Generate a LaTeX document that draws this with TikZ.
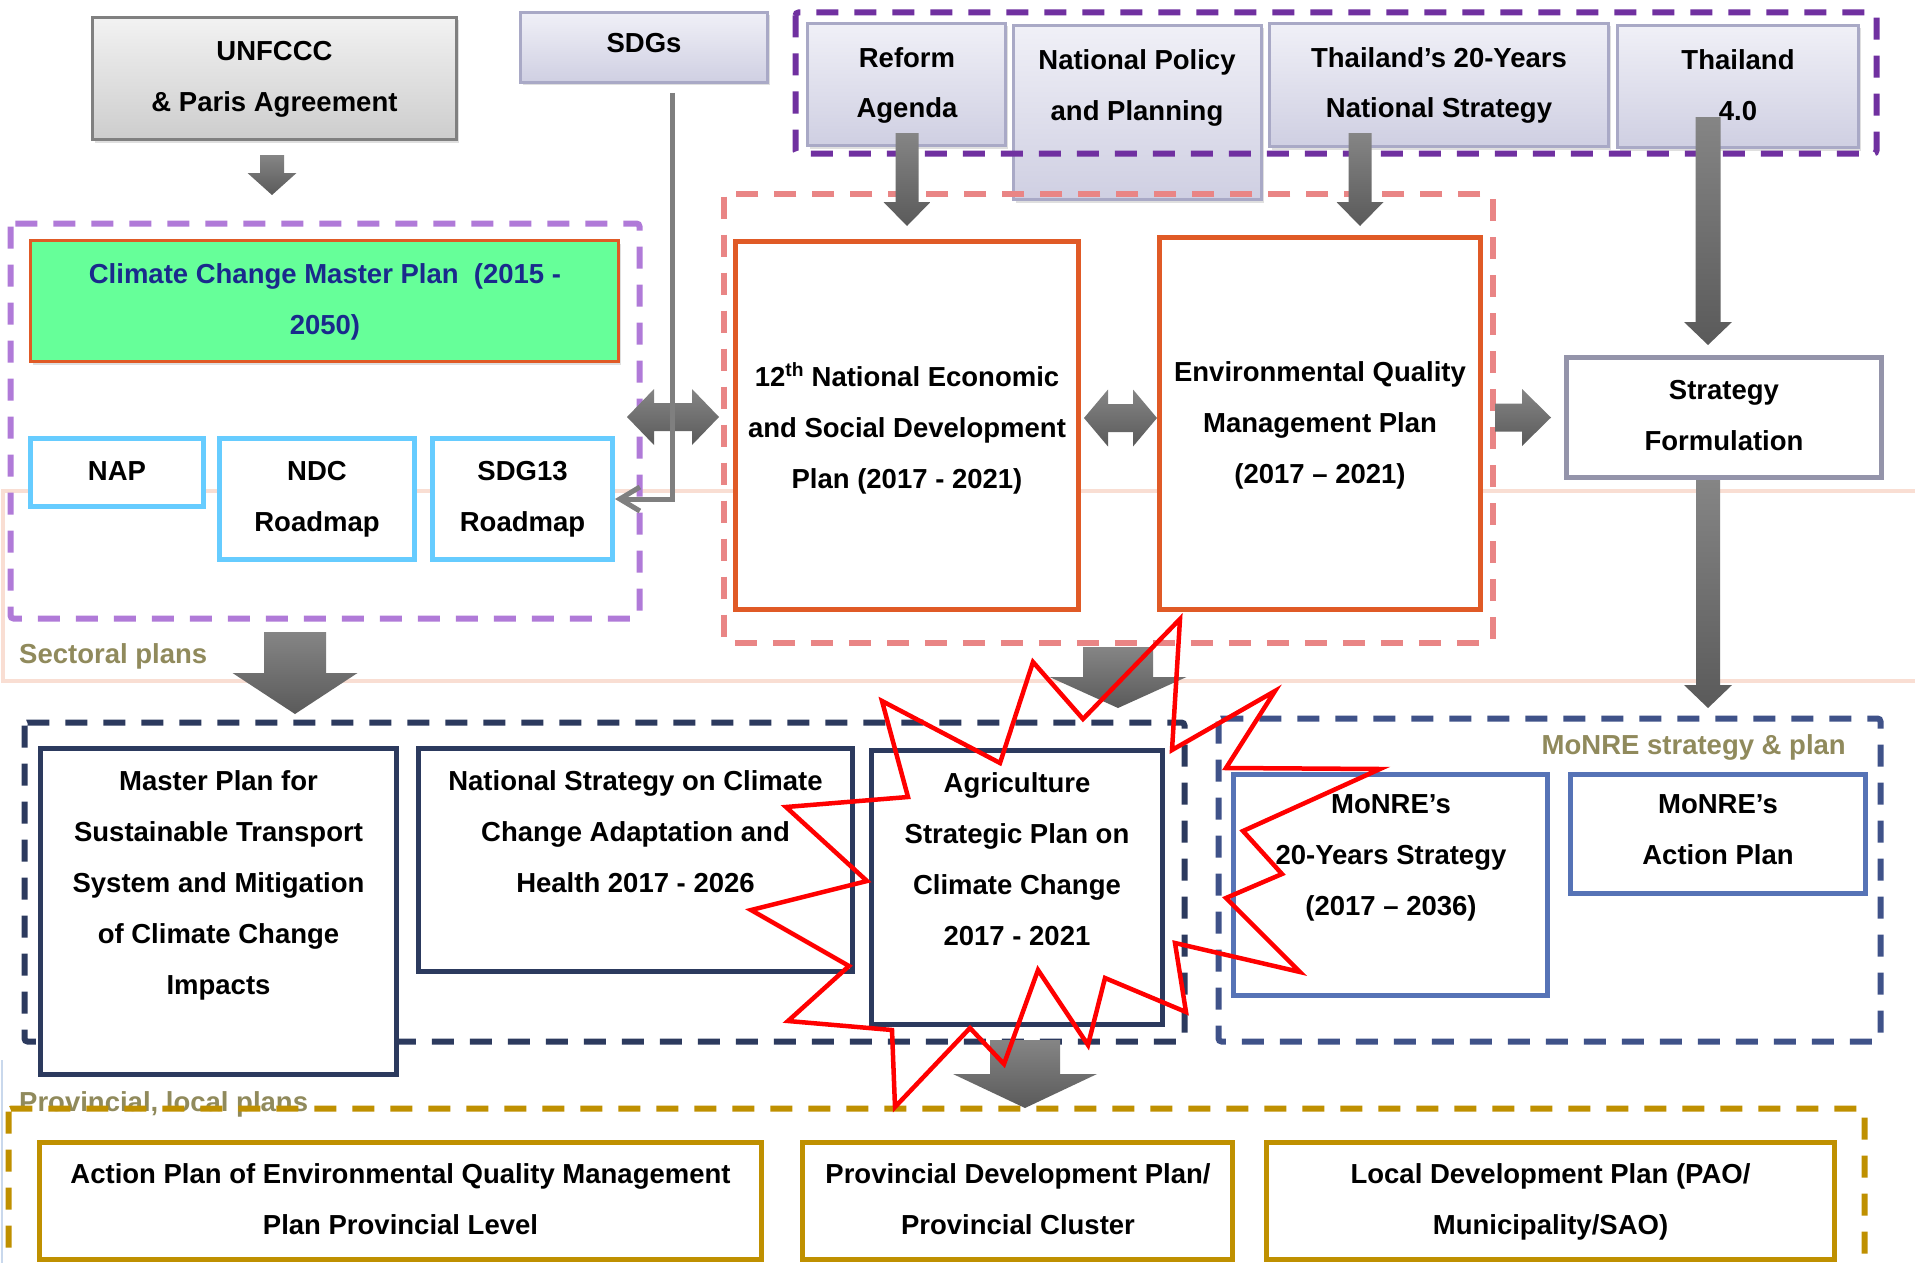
\documentclass[tikz,border=0pt]{standalone}
\usepackage{fontspec}
\setmainfont{Liberation Sans}
\usetikzlibrary{arrows.meta,shadows}
\definecolor{cPurple}{HTML}{7030A0}
\definecolor{cLav}{HTML}{B07AD8}
\definecolor{cPink}{HTML}{E98585}
\definecolor{cOrange}{HTML}{E05A26}
\definecolor{cNavy}{HTML}{2C3A5E}
\definecolor{cMon}{HTML}{3F5289}
\definecolor{cMonBox}{HTML}{5673B6}
\definecolor{cGold}{HTML}{BF9000}
\definecolor{cOlive}{HTML}{908A5C}
\definecolor{cSky}{HTML}{66CCFF}
\definecolor{cStrat}{HTML}{9494AA}
\definecolor{cPeach}{HTML}{F9DED3}
\definecolor{cGreen}{HTML}{66FF99}
\definecolor{cGText}{HTML}{1A2A8C}
\definecolor{cLavTop}{HTML}{F0F0F7}
\definecolor{cLavBot}{HTML}{CFCFE2}
\definecolor{cLavEdge}{HTML}{A9A9C6}
\definecolor{cGrayTop}{HTML}{F2F2F2}
\definecolor{cGrayBot}{HTML}{CDCDCD}
\definecolor{cGrayEdge}{HTML}{808080}
\definecolor{cArrTop}{HTML}{858585}
\definecolor{cArrBot}{HTML}{5A5A5A}
\definecolor{cLine}{HTML}{7F7F7F}
\definecolor{cFaint}{HTML}{C9D8EC}
\newcommand\ml[1]{\begin{tabular}[t]{@{}c@{}}#1\end{tabular}}
\newcommand\varrow[6]{%
  \path[blk] (#1-#5,#2) -- (#1+#5,#2) -- (#1+#5,#3) -- (#1+#6,#3) -- (#1,#4) -- (#1-#6,#3) -- (#1-#5,#3) -- cycle;}
\begin{document}
\begin{tikzpicture}[x=1pt,y=-1pt,
  txt/.style={anchor=base, inner sep=0pt, font=\fontsize{27.5}{51}\selectfont\bfseries},
  box/.style={draw, fill=white, line width=5pt, inner sep=0pt},
  dframe/.style={line width=6pt, dash pattern=on 22pt off 16pt, rounded corners=3pt},
  lavbox/.style={draw=cLavEdge, line width=2.5pt, top color=cLavTop, bottom color=cLavBot, inner sep=0pt,
    drop shadow={shadow xshift=2pt,shadow yshift=-3pt,opacity=0.25}},
  graybox/.style={draw=cGrayEdge, line width=2.5pt, top color=cGrayTop, bottom color=cGrayBot, inner sep=0pt,
    drop shadow={shadow xshift=2pt,shadow yshift=-3pt,opacity=0.25}},
  blk/.style={top color=cArrTop, bottom color=cArrBot, draw=none},
  olive/.style={txt, text=cOlive}]
\useasboundingbox (0,0) rectangle (1915,1263);
\clip (0,0) rectangle (1915,1263);
\fill[white] (0,0) rectangle (1915,1263);
% background band
\draw[cPeach, line width=4pt] (3,491) rectangle (1940,681);
\draw[cFaint, line width=2pt] (2,1060) -- (2,1270);

% ---- top boxes
\node[graybox, minimum width=364pt, minimum height=122pt] (unf) at (274.5,78.5) {};
\node[lavbox, minimum width=247pt, minimum height=70pt] (sdg) at (644,47.5) {};
\node[lavbox, minimum width=198pt, minimum height=122pt] (reform) at (906.5,84.5) {};
\node[lavbox, minimum width=248pt, minimum height=174pt] (natpol) at (1137.5,112.5) {};
\node[lavbox, minimum width=339pt, minimum height=123pt] (th20) at (1439,85) {};
\node[lavbox, minimum width=241pt, minimum height=122pt] (th40) at (1738,86.5) {};
\node[txt] (unf-t) at (274.5,61) {\ml{UNFCCC\\\& Paris Agreement}};
\node[txt] (sdg-t) at (644,53) {SDGs};
\node[txt] (reform-t) at (907,67) {\ml{Reform\\Agenda}};
\node[txt] (natpol-t) at (1137,70) {\ml{National Policy\\and Planning}};
\node[txt] (th20-t) at (1439,67) {\ml{Thailand’s 20-Years\\National Strategy}};
\node[txt] (th40-t) at (1738,70) {\ml{Thailand\\4.0}};

% ---- dashed containers (upper)
\draw[dframe, cPurple] (795.5,12.5) rectangle (1876.5,153.5);
\draw[dframe, cPink] (723.5,193.5) rectangle (1492.5,642.5);
\draw[dframe, cLav] (10.5,223.5) rectangle (639.5,618.5);

% ---- climate change panel
\node[draw=cOrange, line width=2.5pt, fill=cGreen, inner sep=0pt,
  drop shadow={shadow xshift=2pt,shadow yshift=-3pt,opacity=0.25},
  minimum width=588pt, minimum height=121pt] (ccmp) at (324.5,301) {};
\node[txt, text=cGText] (ccmp-t) at (325,283) {\ml{Climate Change Master Plan\ \ (2015 -\\2050)}};
\node[box, draw=cSky, minimum width=173pt, minimum height=68pt] (nap) at (117,472.5) {};
\node[box, draw=cSky, minimum width=195pt, minimum height=121pt] (ndc) at (317,499) {};
\node[box, draw=cSky, minimum width=180pt, minimum height=121pt] (sdg13) at (522.5,499) {};
\node[txt] (nap-t) at (117,480) {NAP};
\node[txt] (ndc-t) at (317,480) {\ml{NDC\\Roadmap}};
\node[txt] (sdg13-t) at (522.5,480) {\ml{SDG13\\Roadmap}};

% ---- national plans
\node[box, draw=cOrange, minimum width=343pt, minimum height=368pt] (nesdp) at (907,425.5) {};
\node[box, draw=cOrange, minimum width=321pt, minimum height=372pt] (env) at (1320,423.5) {};
\node[box, draw=cStrat, minimum width=315pt, minimum height=120pt] (strat) at (1724,417.5) {};
\node[txt] (nesdp-t) at (907,386) {\ml{12\textsuperscript{th} National Economic\\and Social Development\\Plan (2017 - 2021)}};
\node[txt] (env-t) at (1320,381) {\ml{Environmental Quality\\Management Plan\\(2017 – 2021)}};
\node[txt] (strat-t) at (1724,399) {\ml{Strategy\\Formulation}};

\node[olive, anchor=base west] (sect-t) at (19,663) {Sectoral plans};

% ---- sectoral plans
\draw[dframe, cNavy] (24.5,722.5) rectangle (1184.5,1041.5);
\draw[dframe, cMon] (1218.5,718.5) rectangle (1880.5,1041.5);
\node[olive, anchor=base east] (monre-lbl) at (1846,754) {MoNRE strategy \& plan};
\node[box, draw=cNavy, minimum width=356pt, minimum height=326pt] (master) at (218.5,911.5) {};
\node[box, draw=cNavy, minimum width=434pt, minimum height=223pt] (natstrat) at (635.5,860) {};
\node[box, draw=cNavy, minimum width=291pt, minimum height=274pt] (agri) at (1017,887.5) {};
\node[box, draw=cMonBox, minimum width=314pt, minimum height=221pt] (monre20) at (1390.5,885) {};
\node[box, draw=cMonBox, minimum width=295pt, minimum height=119pt] (monreap) at (1718,834) {};
\node[txt] (master-t) at (218.5,790) {\ml{Master Plan for\\Sustainable Transport\\System and Mitigation\\of Climate Change\\Impacts}};
\node[txt] (natstrat-t) at (635.5,790) {\ml{National Strategy on Climate\\Change Adaptation and\\Health 2017 - 2026}};
\node[txt] (agri-t) at (1017,792) {\ml{Agriculture\\Strategic Plan on\\Climate Change\\2017 - 2021}};
\node[txt] (monre20-t) at (1391,813) {\ml{MoNRE’s\\20-Years Strategy\\(2017 – 2036)}};
\node[txt] (monreap-t) at (1718,813) {\ml{MoNRE’s\\Action Plan}};

% ---- provincial plans
\node[olive, anchor=base west] (prov-lbl) at (19,1111) {Provincial, local plans};
\draw[dframe, cGold] (8.5,1108.5) rectangle (1864.5,1320);
\node[box, draw=cGold, minimum width=722pt, minimum height=117pt] (actenv) at (400.5,1201) {};
\node[box, draw=cGold, minimum width=430pt, minimum height=117pt] (provdev) at (1017.5,1201) {};
\node[box, draw=cGold, minimum width=568pt, minimum height=117pt] (localdev) at (1550.5,1201) {};
\node[txt] (actenv-t) at (400.5,1183) {\ml{Action Plan of Environmental Quality Management\\Plan Provincial Level}};
\node[txt] (provdev-t) at (1018,1183) {\ml{Provincial Development Plan/\\Provincial Cluster}};
\node[txt] (localdev-t) at (1550.5,1183) {\ml{Local Development Plan (PAO/\\Municipality/SAO)}};

% ---- block arrows
\varrow{272}{155}{173}{195}{12}{24.5}
\varrow{907}{133}{202}{226}{11.5}{23.5}
\varrow{1360}{133}{202}{226}{11.5}{23.5}
\varrow{1708}{117}{322}{345}{12.5}{24}
\varrow{1708}{480}{685}{708}{12}{24}
\varrow{295}{632}{673}{714}{31}{62.5}
\varrow{1118}{647}{677}{708}{35}{68.5}
\varrow{1025}{1040}{1074}{1108}{35}{72}
% double arrows
\path[blk] (627,417) -- (654,389) -- (654,403) -- (692,403) -- (692,389) -- (719,417)
  -- (692,445) -- (692,431) -- (654,431) -- (654,445) -- cycle;
\path[blk] (1084,418) -- (1108,389.5) -- (1108,404) -- (1133,404) -- (1133,389.5) -- (1157,418)
  -- (1133,446.5) -- (1133,432) -- (1108,432) -- (1108,446.5) -- cycle;
\path[blk] (1495,403.5) -- (1522,403.5) -- (1522,389) -- (1551,417.5) -- (1522,446) -- (1522,431.5) -- (1495,431.5) -- cycle;

% SDG connector
\coordinate (sdgdrop) at (672,93);
\draw[cLine, line width=5pt, -{Straight Barb[length=20pt,width=24pt]}] (sdgdrop) |- (sdg13.east);

% ---- red starburst
\draw[red, line width=4.5pt] (1180,619) -- (1172,750) -- (1275,691) -- (1226,768) -- (1380,769)
  -- (1243,831) -- (1282,874) -- (1226,898) -- (1300,972) -- (1175,943) -- (1186,1012)
  -- (1105,978) -- (1088,1045) -- (1038,970) -- (1004,1064) -- (970,1028) -- (895,1107)
  -- (892,1030) -- (788,1021) -- (849,966) -- (751,910) -- (867,881) -- (786,807)
  -- (908,797) -- (882,701) -- (1000,763) -- (1033,662) -- (1083,719) -- cycle;
\end{tikzpicture}
\end{document}
